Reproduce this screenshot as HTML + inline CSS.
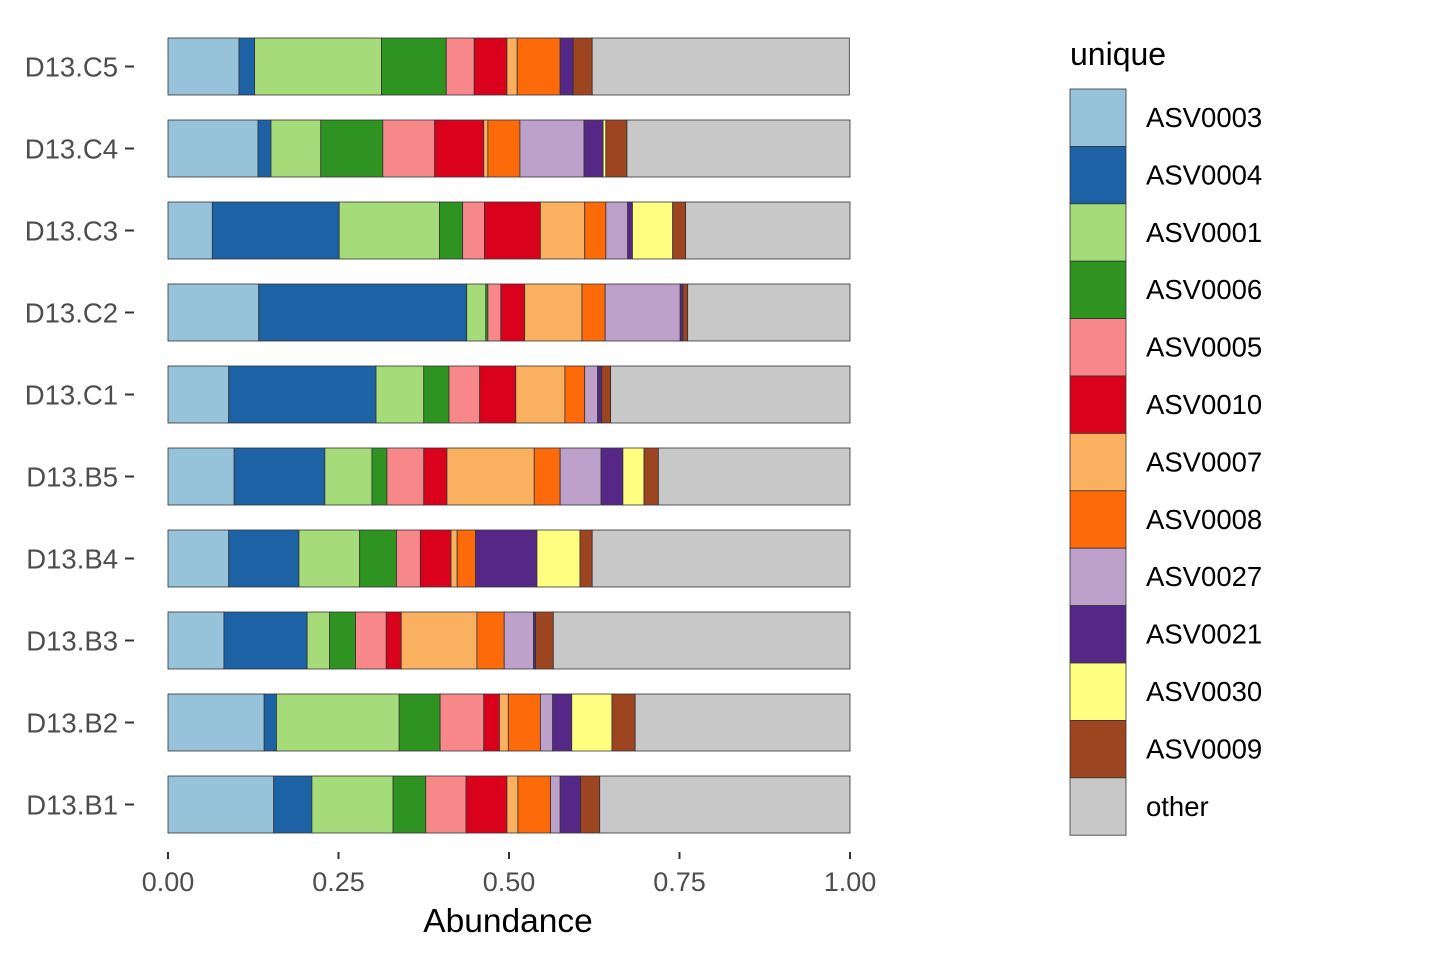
<!DOCTYPE html>
<html><head><meta charset="utf-8"><style>
body{margin:0;background:#fff;font-family:"Liberation Sans",Arial,sans-serif}
</style></head><body>
<svg id="chart" width="1440" height="960" xmlns="http://www.w3.org/2000/svg">
<g id="bars"></g>
<g id="yaxis"></g>
<g id="xaxis"></g>
<text x="508" y="932" font-size="33.5" text-anchor="middle" fill="#000">Abundance</text>
<g id="legend">
<text x="1070" y="65" font-size="32" fill="#000">unique</text>
</g>
</svg>
<script>
const samples = ["D13.C5","D13.C4","D13.C3","D13.C2","D13.C1","D13.B5","D13.B4","D13.B3","D13.B2","D13.B1"];
const taxa = ["ASV0003","ASV0004","ASV0001","ASV0006","ASV0005","ASV0010","ASV0007","ASV0008","ASV0027","ASV0021","ASV0030","ASV0009","other"];
const colors = ["#96c3da","#1d62a4","#a6db7a","#2e9321","#f8878a","#da011d","#f9b15f","#fd6a0a","#bea1cb","#552888","#feff80","#9d4421","#c8c8c8"];
const xTicks = [0,0.25,0.5,0.75,1];
const xTickLabels = ["0.00","0.25","0.50","0.75","1.00"];
const vC5 = [.104,.023,.186,.095,.041,.048,.015,.063,0,.019,0,.028,.377];
const vC4 = [.132,.019,.073,.091,.076,.072,.006,.047,.094,.028,.004,.031,.327];
const vC3 = [.065,.186,.147,.034,.032,.082,.065,.031,.032,.007,.059,.019,.241];
const vC2 = [.133,.305,.028,.003,.019,.035,.084,.034,.110,.004,0,.007,.238];
const vC1 = [.089,.216,.070,.037,.045,.053,.072,.029,.019,.006,0,.013,.351];
const vB5 = [.097,.133,.069,.022,.054,.034,.128,.038,.060,.032,.031,.021,.281];
const vB4 = [.089,.103,.089,.054,.035,.045,.009,.027,0,.090,.063,.018,.378];
const vB3 = [.082,.122,.033,.038,.045,.022,.111,.040,.043,.003,0,.026,.435];
const vB2 = [.141,.018,.180,.060,.064,.023,.013,.047,.018,.028,.059,.034,.315];
const vB1 = [.155,.056,.119,.048,.059,.060,.016,.048,.014,.030,0,.028,.367];
const values = [vC5,vC4,vC3,vC2,vC1,vB5,vB4,vB3,vB2,vB1];

const NS="http://www.w3.org/2000/svg";
const x0=168,x1=850;
const xs=v=>x0+v*(x1-x0);
const band=82,topY=26,barH=57;
const yc=i=>topY+band*i+band/2-0.5;
function mk(t,a,p){const e=document.createElementNS(NS,t);for(const k in a)e.setAttribute(k,a[k]);p.appendChild(e);return e;}
const gb=document.getElementById('bars'),gy=document.getElementById('yaxis'),gx=document.getElementById('xaxis'),gl=document.getElementById('legend');
samples.forEach((s,i)=>{
  let c=0;
  values[i].forEach((v,j)=>{
    if(v<=0)return;
    const r=mk('rect',{x:xs(c),y:yc(i)-barH/2,width:xs(c+v)-xs(c),height:barH,fill:colors[j],stroke:"#333",'stroke-width':0.8},gb);
    
    
    c+=v;
  });
  const t=mk('line',{x1:125,x2:134,y1:yc(i),y2:yc(i),stroke:"#333",'stroke-width':2},gy);
  
  
  const l=mk('text',{x:118,y:yc(i)+10,'font-size':27.5,'text-anchor':'end',fill:'#4d4d4d'},gy);
  l.textContent=s;
  
  
});
xTicks.forEach((v,i)=>{
  const t=mk('line',{x1:xs(v),x2:xs(v),y1:852,y2:859,stroke:"#333",'stroke-width':2},gx);
  
  
  const l=mk('text',{x:xs(v),y:891,'font-size':27,'text-anchor':'middle',fill:'#4d4d4d'},gx);
  l.textContent=xTickLabels[i];
  
  
});
taxa.forEach((t,j)=>{
  const y=89+j*57.4;
  const r=mk('rect',{x:1070,y:y,width:56,height:57.4,fill:colors[j],stroke:"#333",'stroke-width':0.8},gl);
  
  
  const l=mk('text',{x:1146,y:y+38,'font-size':27.5,fill:'#000'},gl);
  l.textContent=t;
  
  
});
</script>
</body></html>
